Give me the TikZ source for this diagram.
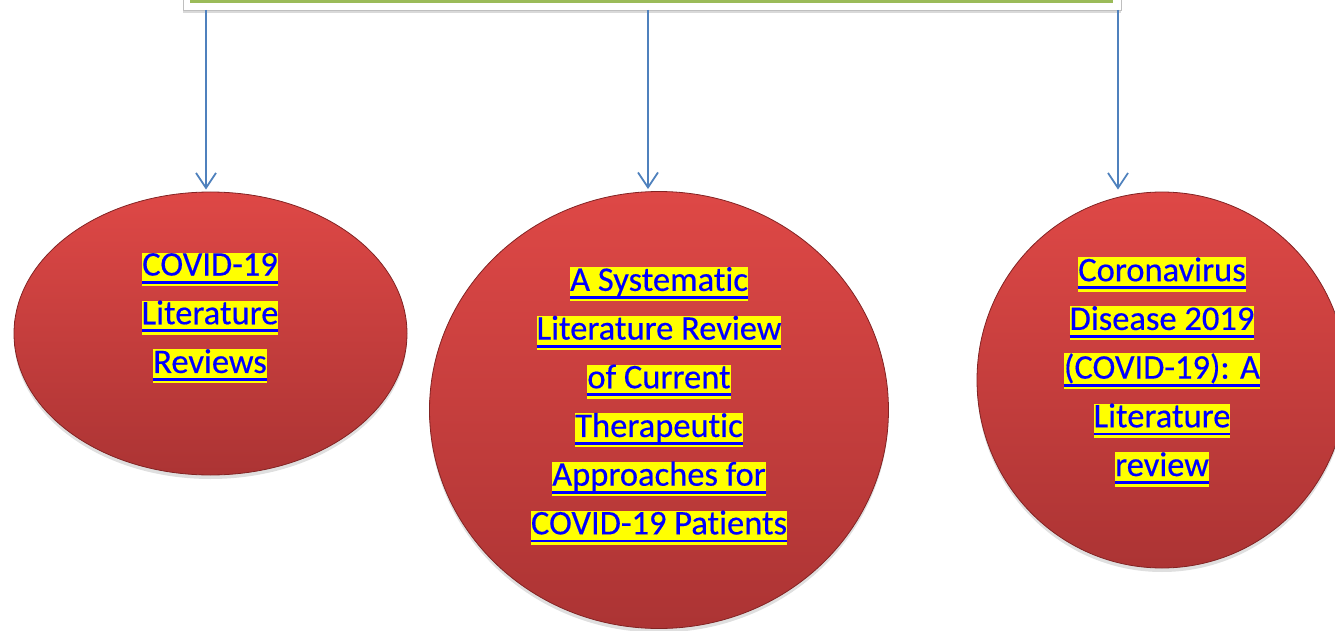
\documentclass[tikz,border=0pt]{standalone}
\usepackage{fontspec}
\setmainfont[FakeBold=0.4, Ligatures=NoCommon]{Carlito}
\usepackage{tikz}
\usetikzlibrary{arrows.meta, shapes.geometric, shadows}

\definecolor{hlyellow}{RGB}{255,255,0}
\definecolor{linkblue}{RGB}{0,0,255}
\definecolor{arrowblue}{RGB}{79,129,189}
\definecolor{bandgreen}{RGB}{155,187,89}
\definecolor{balltop}{RGB}{222,72,70}
\definecolor{ballbottom}{RGB}{172,52,52}
\definecolor{ballrim}{RGB}{130,35,35}

\newcommand{\hlline}[1]{%
  \setbox0=\hbox{#1}%
  {\setlength{\fboxsep}{0pt}\colorbox{hlyellow}{\rule[-10.5pt]{0pt}{33.5pt}\rlap{\color{linkblue}\rule[-8pt]{\wd0}{2.8pt}}\box0}}}

\tikzset{
  ball/.style={ellipse, inner sep=0pt, top color=balltop, bottom color=ballbottom,
    draw=ballrim, line width=0.8pt,
    drop shadow={opacity=0.25, shadow xshift=0pt, shadow yshift=-4pt}},
  balltext/.style={align=center, inner sep=0pt, text=linkblue,
    font=\fontsize{34.5}{48.7}\selectfont},
  linkarrow/.style={draw=arrowblue, line width=1.8pt,
    -{Straight Barb[length=15pt,width=20pt,line width=1.8pt]}},
}

\begin{document}
\begin{tikzpicture}[x=1pt,y=1pt,yscale=-1,xscale=1]
                \useasboundingbox (0,0) rectangle (1335,631);
                %Shape: Rectangle [top box, cut off at the top]
                \node [draw=black!25, fill=white, line width=0.8pt, minimum width=938pt, minimum height=60pt, inner sep=0pt,
                  drop shadow={opacity=0.3, shadow xshift=0pt, shadow yshift=-3pt}] (src) at (652,-20) {};
                \fill [bandgreen] (190,-10) rectangle (1113,3);
                %Shape: Ellipse
                \node [ball, minimum width=393pt, minimum height=283pt] (lit1) at (210.5,333.5) {};
                %Shape: Ellipse
                \node [ball, minimum width=459pt, minimum height=437pt] (lit2) at (659,410) {};
                %Shape: Ellipse
                \node [ball, minimum width=370pt, minimum height=376pt] (lit3) at (1162,380) {};
                % Text Node
                \node [balltext] (lit1text) at (210,318) {\hlline{COVID-19}\\\hlline{Literature}\\\hlline{Reviews}};
                % Text Node
                \node [balltext] (lit2text) at (659,406) {\hlline{A Systematic}\\\hlline{Literature Review}\\\hlline{of Current}\\\hlline{Therapeutic}\\\hlline{Approaches for}\\\hlline{COVID-19 Patients}};
                % Text Node
                \node [balltext] (lit3text) at (1162,372) {\hlline{Coronavirus}\\\hlline{Disease 2019}\\\hlline{(COVID-19): A}\\\hlline{Literature}\\\hlline{review}};
                %Straight Lines
                \coordinate (out1) at (206,10);
                \coordinate (out2) at (648,10);
                \coordinate (out3) at (1118,10);
                \draw [linkarrow, shorten >=2pt] (out1) -- (out1 |- lit1.north);
                \draw [linkarrow, shorten >=2pt] (out2) -- (out2 |- lit2.north);
                \draw [linkarrow, shorten >=2pt] (out3) -- (out3 |- lit3.north);
            \end{tikzpicture}
\end{document}
